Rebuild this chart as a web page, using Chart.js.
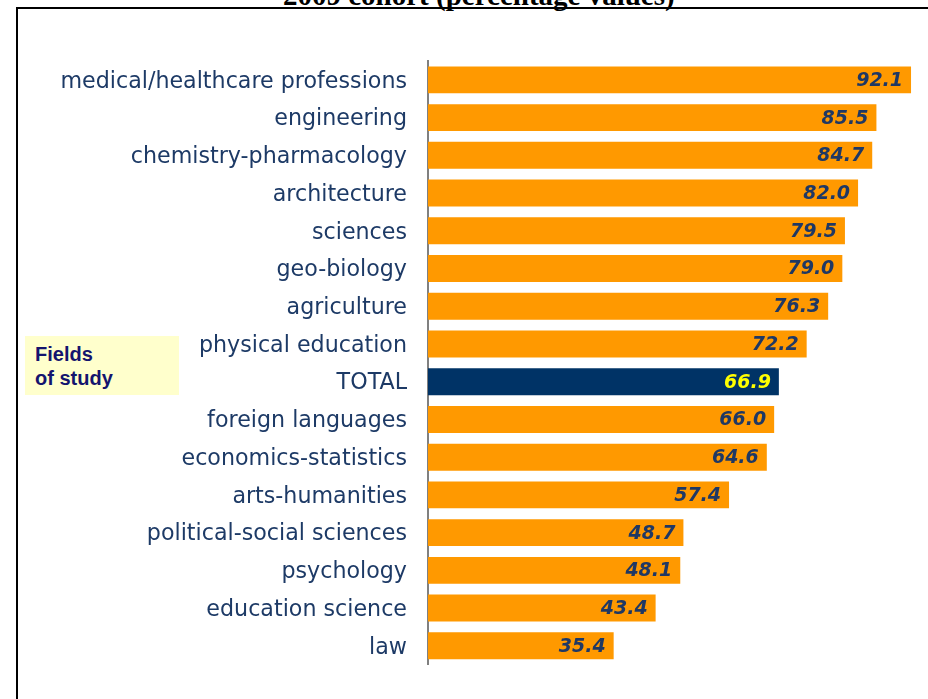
<!DOCTYPE html>
<html>
<head>
<meta charset="utf-8">
<script src="https://cdn.jsdelivr.net/npm/chart.js@4"></script>
<style>
  body { margin: 0; background: #fff; overflow: hidden; }
  #wrap { position: relative; width: 928px; height: 699px; }
  #frame { position: absolute; left: 16px; top: 7px; width: 940px; height: 720px;
           border-left: 2px solid #000; border-top: 2px solid #000; }
  #title { position: absolute; left: 283px; top: -19px; white-space: nowrap;
           font: bold 29px "Liberation Serif", "Times New Roman", serif; line-height: 29px; color: #000; }
  #fields { position: absolute; left: 25px; top: 336px; width: 144px; height: 53px;
            background: #ffffcc; padding: 6px 0 0 10px;
            font: bold 20px "Liberation Sans", Arial, sans-serif; line-height: 24px; color: #14146e; }
  canvas { position: absolute; left: 0; top: 0; }
</style>
</head>
<body>
<div id="wrap">
  <div id="frame"></div>
  <div id="title">2009 cohort (percentage values)</div>
  <canvas id="chart" width="928" height="699"></canvas>
  <div id="fields">Fields<br>of study</div>
</div>
<script>
const fields = [
  'medical/healthcare professions', 'engineering', 'chemistry-pharmacology',
  'architecture', 'sciences', 'geo-biology', 'agriculture', 'physical education',
  'TOTAL', 'foreign languages', 'economics-statistics', 'arts-humanities',
  'political-social sciences', 'psychology', 'education science', 'law'
];
const shares = [92.1, 85.5, 84.7, 82.0, 79.5, 79.0, 76.3, 72.2, 66.9, 66.0, 64.6, 57.4, 48.7, 48.1, 43.4, 35.4];

const barColors = fields.map(f => f === 'TOTAL' ? '#003366' : '#ff9900');
const valueColors = fields.map(f => f === 'TOTAL' ? '#ffff00' : '#1f3864');

// value written inside the right end of each bar
const valueLabels = {
  id: 'valueLabels',
  afterDatasetsDraw(chart) {
    const ctx = chart.ctx;
    const meta = chart.getDatasetMeta(0);
    ctx.save();
    ctx.font = 'italic bold 19px "DejaVu Sans", Verdana, sans-serif';
    ctx.textAlign = 'right';
    ctx.textBaseline = 'middle';
    meta.data.forEach((bar, i) => {
      ctx.fillStyle = valueColors[i];
      ctx.fillText(shares[i].toFixed(1), bar.x - 8, bar.y + 1);
    });
    ctx.restore();
  }
};

new Chart(document.getElementById('chart'), {
  type: 'bar',
  data: {
    labels: fields,
    datasets: [{
      data: shares,
      backgroundColor: barColors,
      borderWidth: 0,
      categoryPercentage: 1,
      barPercentage: 0.714
    }]
  },
  options: {
    indexAxis: 'y',
    responsive: false,
    animation: false,
    layout: { padding: { top: 61, bottom: 33, left: 0, right: 7 } },
    plugins: { legend: { display: false }, tooltip: { enabled: false } },
    scales: {
      x: { display: false, min: 0, max: 94 },
      y: {
        afterFit(scale) { scale.width = 428; },
        grid: { display: false, drawTicks: false },
        border: { display: true, color: '#808080', width: 2 },
        ticks: {
          autoSkip: false,
          padding: 21,
          labelOffset: 2,
          color: '#1d3a66',
          font: { family: '"DejaVu Sans", Verdana, sans-serif', size: 22.2 }
        }
      }
    }
  },
  plugins: [valueLabels]
});
</script>
</body>
</html>
